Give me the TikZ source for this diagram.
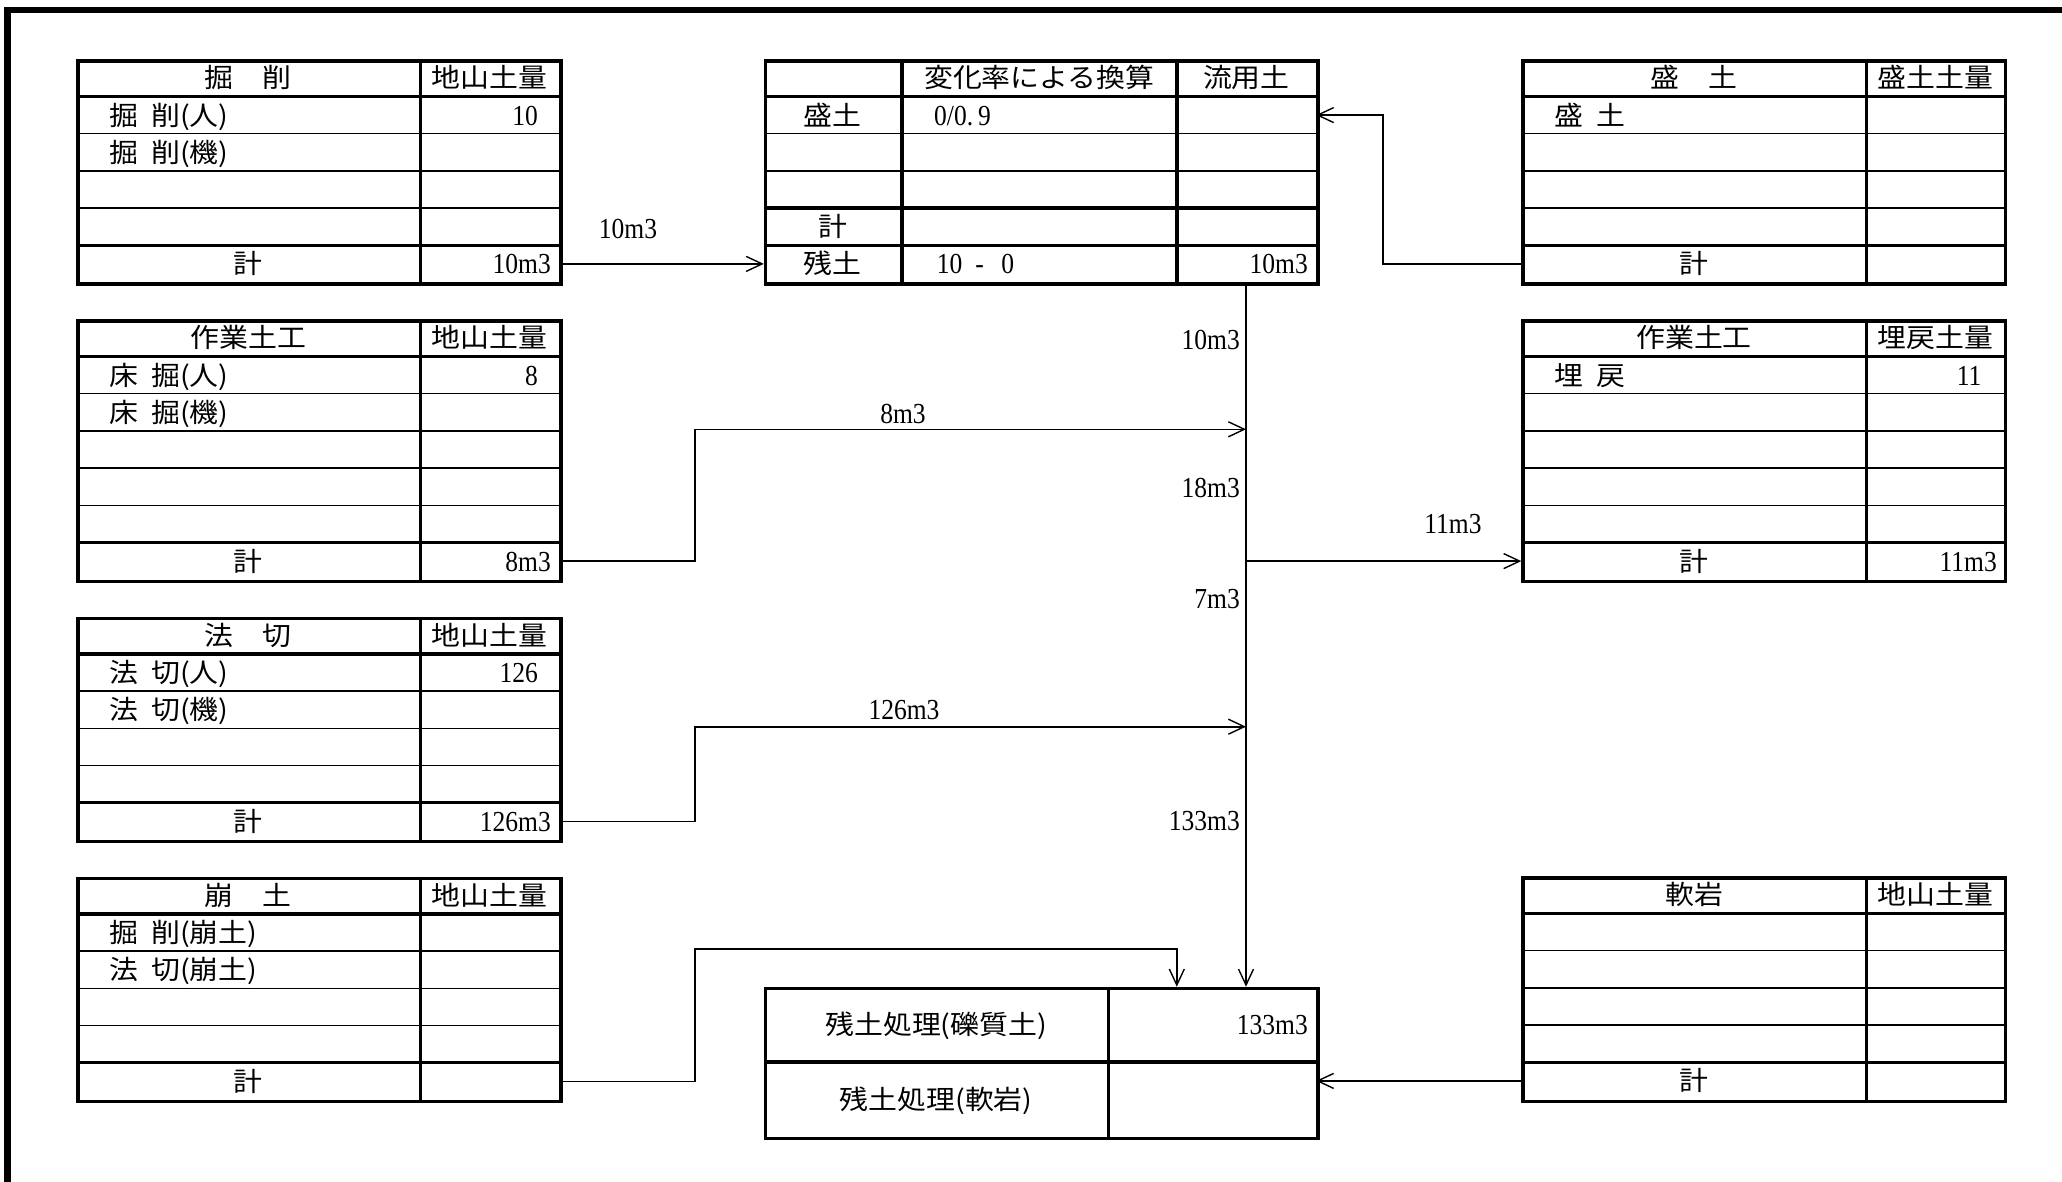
\documentclass[tikz,border=0pt]{standalone}
\usepackage{fontspec}
\setmainfont[FakeStretch=0.88]{Liberation Serif}
\newfontfamily\jp[FakeStretch=1.09]{Noto Sans CJK JP}
\usetikzlibrary{arrows.meta}
\tikzset{
  thk/.style={line width=3.5pt},
  thn/.style={line width=1.3pt},
  conn/.style={line width=1.6pt},
  arr/.style={conn,-{Straight Barb[length=16pt,width=15pt,line width=1.4pt]}},
  jt/.style={font=\jp\fontsize{26.5}{30}\selectfont},
  lt/.style={font=\fontsize{29}{32}\selectfont},
  every node/.style={inner sep=0pt,text height=23.3pt,text depth=3.2pt},
}
\newcommand{\hsp}{\hspace{0.5em}}
% #1 xL  #2 xM  #3 xR  #4 ytop  #5 nrows  #6 name
\newcommand{\tabgrid}[6]{%
  \pgfmathsetmacro{\tbot}{#4+#5*37.2}%
  \pgfmathsetmacro{\tw}{#3-#1}%
  \pgfmathsetmacro{\th}{#5*37.2}%
  \pgfmathtruncatemacro{\kmax}{#5-2}%
  \foreach \k in {2,...,\kmax}{\draw[thn] (#1,#4+\k*37.2) -- (#3,#4+\k*37.2);}
  \draw[thk] (#1,#4+37.2) -- (#3,#4+37.2);
  \draw[thk] (#1,#4+#5*37.2-37.2) -- (#3,#4+#5*37.2-37.2);
  \draw[thk] (#2,#4) -- (#2,\tbot);
  \node[draw,thk,anchor=north west,minimum width=\tw pt,minimum height=\th pt,text height=,text depth=] (#6) at (#1,#4) {};
}
\begin{document}
\begin{tikzpicture}[x=1pt,y=-1pt]
\useasboundingbox (0,0) rectangle (2062,1182);
% page frame
\draw[line width=6.7pt] (7.8,1195) -- (7.8,10) -- (2075,10);

% ---------------- left tables ----------------
\tabgrid{76}{420.5}{559}{59.3}{6}{tA}
\node[jt] (aH1) at (248.25,77.9) {掘　削};
\node[jt] (aH2) at (489.75,77.9) {地山土量};
\node[jt,anchor=west] (a21) at (109,115.1) {掘\hsp 削(人)};
\node[lt,anchor=east] (a22) at (538,115.1) {10};
\node[jt,anchor=west] (a31) at (109,152.3) {掘\hsp 削(機)};
\node[jt] (aK1) at (248.25,263.9) {計};
\node[lt,anchor=east] (aK2) at (551,263.9) {10m3};

\tabgrid{76}{420.5}{559}{319.3}{7}{tB}
\node[jt] (bH1) at (248.25,337.9) {作業土工};
\node[jt] (bH2) at (489.75,337.9) {地山土量};
\node[jt,anchor=west] (b21) at (109,375.1) {床\hsp 掘(人)};
\node[lt,anchor=east] (b22) at (538,375.1) {8};
\node[jt,anchor=west] (b31) at (109,412.3) {床\hsp 掘(機)};
\node[jt] (bK1) at (248.25,561.1) {計};
\node[lt,anchor=east] (bK2) at (551,561.1) {8m3};

\tabgrid{76}{420.5}{559}{616.7}{6}{tC}
\node[jt] (cH1) at (248.25,635.3) {法　切};
\node[jt] (cH2) at (489.75,635.3) {地山土量};
\node[jt,anchor=west] (c21) at (109,672.5) {法\hsp 切(人)};
\node[lt,anchor=east] (c22) at (538,672.5) {126};
\node[jt,anchor=west] (c31) at (109,709.7) {法\hsp 切(機)};
\node[jt] (cK1) at (248.25,821.3) {計};
\node[lt,anchor=east] (cK2) at (551,821.3) {126m3};

\tabgrid{76}{420.5}{559}{876.7}{6}{tD}
\node[jt] (dH1) at (248.25,895.3) {崩　土};
\node[jt] (dH2) at (489.75,895.3) {地山土量};
\node[jt,anchor=west] (d21) at (109,932.5) {掘\hsp 削(崩土)};
\node[jt,anchor=west] (d31) at (109,969.7) {法\hsp 切(崩土)};
\node[jt] (dK1) at (248.25,1081.3) {計};

% ---------------- right tables ----------------
\tabgrid{1521.3}{1866.7}{2003.5}{59.3}{6}{tE}
\node[jt] (eH1) at (1694,77.9) {盛　土};
\node[jt] (eH2) at (1935.1,77.9) {盛土土量};
\node[jt,anchor=west] (e21) at (1554,115.1) {盛\hsp 土};
\node[jt] (eK1) at (1694,263.9) {計};

\tabgrid{1521.3}{1866.7}{2003.5}{319.3}{7}{tF}
\node[jt] (fH1) at (1694,337.9) {作業土工};
\node[jt] (fH2) at (1935.1,337.9) {埋戻土量};
\node[jt,anchor=west] (f21) at (1554,375.1) {埋\hsp 戻};
\node[lt,anchor=east] (f22) at (1981.6,375.1) {11};
\node[jt] (fK1) at (1694,561.1) {計};
\node[lt,anchor=east] (fK2) at (1997,561.1) {11m3};

\tabgrid{1521.3}{1866.7}{2003.5}{876.3}{6}{tG}
\node[jt] (gH1) at (1694,894.9) {軟岩};
\node[jt] (gH2) at (1935.1,894.9) {地山土量};
\node[jt] (gK1) at (1694,1080.9) {計};

% ---------------- centre table ----------------
\foreach \yy in {133.7,170.9} {\draw[thn] (763.8,\yy) -- (1316,\yy);}
\foreach \yy in {96.5,208.1,245.3} {\draw[thk] (763.8,\yy) -- (1316,\yy);}
\draw[thk] (901.8,59.3) -- (901.8,282.5);
\draw[thk] (1176.8,59.3) -- (1176.8,282.5);
\node[draw,thk,anchor=north west,minimum width=552.2pt,minimum height=223.2pt,text height=,text depth=] (tM) at (763.8,59.3) {};
\node[jt] (mH2) at (1039.3,77.9) {変化率による換算};
\node[jt] (mH3) at (1246.4,77.9) {流用土};
\node[jt] (m21) at (832.8,115.1) {盛土};
\node[lt,anchor=west] (m22) at (934,115.1) {0/0.\,9};
\node[jt] (m51) at (832.8,226.7) {計};
\node[jt] (m61) at (832.8,263.9) {残土};
\node[lt,anchor=west] (m62) at (936.6,263.9) {10\hspace{0.45em}-\hspace{0.6em}0};
\node[lt,anchor=east] (m63) at (1308,263.9) {10m3};

% ---------------- bottom table ----------------
\draw[thk] (763.8,1062) -- (1316,1062);
\draw[thk] (1108.5,986.7) -- (1108.5,1136.5);
\node[draw,thk,anchor=north west,minimum width=552.2pt,minimum height=149.8pt,text height=,text depth=] (tH) at (763.8,986.7) {};
\node[jt] (h11) at (936.2,1024.4) {残土処理(礫質土)};
\node[lt,anchor=east] (h12) at (1308,1024.4) {133m3};
\node[jt] (h21) at (936.2,1099.3) {残土処理(軟岩)};

% ---------------- connection points ----------------
\coordinate (Ak) at (559,263.9);
\coordinate (Ml) at (763.8,263.9);
\coordinate (Ek) at (1521.3,263.9);
\coordinate (Mr) at (1316,115.1);
\coordinate (Mb) at (1246,282.5);
\coordinate (Ht1) at (1246,986.7);
\coordinate (Bk) at (559,561.1);
\coordinate (J1) at (1246,429.3);
\coordinate (J2) at (1246,561.1);
\coordinate (Fk) at (1521.3,561.1);
\coordinate (Ck) at (559,821.3);
\coordinate (J3) at (1246,726.7);
\coordinate (Dk) at (559,1081.3);
\coordinate (Ht2) at (1176.8,986.7);
\coordinate (Gk) at (1521.3,1080.9);
\coordinate (Hr) at (1316,1080.9);

% ---------------- connectors ----------------
\draw[arr] (Ak) -- (Ml);
\draw[arr] (Ek) -- (1383,263.9) -- (1383,115.1) -- (Mr);
\draw[arr] (Mb) -- (Ht1);
\draw[arr] (Bk) -- (695,561.1) -- (695,429.3) -- (J1);
\draw[arr] (J2) -- (Fk);
\draw[arr] (Ck) -- (695,821.3) -- (695,726.7) -- (J3);
\draw[arr] (Dk) -- (695,1081.3) -- (695,949) -- (1176.8,949) -- (Ht2);
\draw[arr] (Gk) -- (Hr);

% ---------------- flow labels ----------------
\node[lt] (l1) at (628,228) {10m3};
\node[lt,anchor=east] (l2) at (1240,339) {10m3};
\node[lt] (l3) at (903,413) {8m3};
\node[lt,anchor=east] (l4) at (1240,487) {18m3};
\node[lt] (l5) at (1453,523) {11m3};
\node[lt,anchor=east] (l6) at (1240,598) {7m3};
\node[lt] (l7) at (904,709) {126m3};
\node[lt,anchor=east] (l8) at (1240,820) {133m3};
\end{tikzpicture}
\end{document}
